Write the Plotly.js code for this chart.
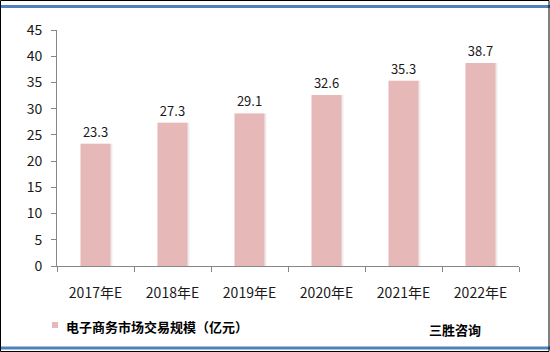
<!DOCTYPE html>
<html><head><meta charset="utf-8">
<script src="https://cdn.plot.ly/plotly-3.0.1.min.js"></script>
<style>body{margin:0;background:#fff}#c{width:550px;height:352px}</style>
</head><body><div id="c"></div>
<script>
const categories = ["2017年E","2018年E","2019年E","2020年E","2021年E","2022年E"];
const values = [23.3, 27.3, 29.1, 32.6, 35.3, 38.7];
const seriesName = "电子商务市场交易规模（亿元）";
const sourceText = "三胜咨询";

const L = 57, R = 519, T = 30, B = 266;
const W = 550, H = 352;
const px = x => (x - L) / (R - L);
const py = y => (B - y) / (B - T);
const font = "Noto Sans CJK SC, Microsoft YaHei, sans-serif";

const traces = [
  {type:"bar", x:categories, y:values, width:0.41, offset:-0.19,
   marker:{color:"#ececec"}, showlegend:false, hoverinfo:"skip"},
  {type:"bar", x:categories, y:values, name:seriesName, width:0.39, offset:-0.195,
   marker:{color:"#E6B9B8"}, showlegend:false,
   text:values.map(v=>v.toFixed(1)), textposition:"outside", cliponaxis:false,
   textfont:{family:font, size:13, color:"#1a1a1a"}}
];

const layout = {
  width:W, height:H,
  margin:{l:L, r:W-R, t:T, b:H-B},
  paper_bgcolor:"#fff", plot_bgcolor:"#fff",
  barmode:"overlay",
  font:{family:font, size:13, color:"#1a1a1a"},
  xaxis:{type:"category", showline:true, linecolor:"#868686", linewidth:1,
    ticks:"outside", tickson:"boundaries", ticklen:5, tickcolor:"#868686",
    ticklabelstandoff:14,
    showgrid:false, tickfont:{family:font, size:14, color:"#1a1a1a"}, fixedrange:true},
  yaxis:{range:[0,45], dtick:5, showline:true, linecolor:"#868686", linewidth:1,
    ticks:"outside", ticklen:5, tickcolor:"#868686", showgrid:false, zeroline:false,
    ticklabelstandoff:6,
    tickfont:{family:font, size:14, color:"#1a1a1a"}, fixedrange:true},
  showlegend:false,
  annotations:[
    {text:seriesName, xref:"paper", yref:"paper", x:px(64), y:py(326),
     xanchor:"left", yanchor:"middle", showarrow:false,
     font:{family:font, size:13, color:"#000", weight:"bold"}},
    {text:sourceText, xref:"paper", yref:"paper", x:px(427), y:py(329),
     xanchor:"left", yanchor:"middle", showarrow:false,
     font:{family:font, size:13, color:"#000", weight:"bold"}}],
  shapes:[
    {type:"rect", xref:"paper", yref:"paper", x0:px(52), x1:px(58), y0:py(322), y1:py(328), line:{width:0}, fillcolor:"#E6B9B8"},
    {type:"line", xref:"paper", yref:"paper", x0:px(0), x1:px(550), y0:py(6.5), y1:py(6.5), line:{color:"#4F81BD", width:3}},
    {type:"line", xref:"paper", yref:"paper", x0:px(0), x1:px(550), y0:py(348), y1:py(348), line:{color:"#4F81BD", width:3}},
    {type:"rect", xref:"paper", yref:"paper", x0:px(0.5), x1:px(549), y0:py(0.5), y1:py(351.5), line:{color:"#000", width:1}}
  ]
};
Plotly.newPlot("c", traces, layout, {displayModeBar:false, staticPlot:true});
</script></body></html>
